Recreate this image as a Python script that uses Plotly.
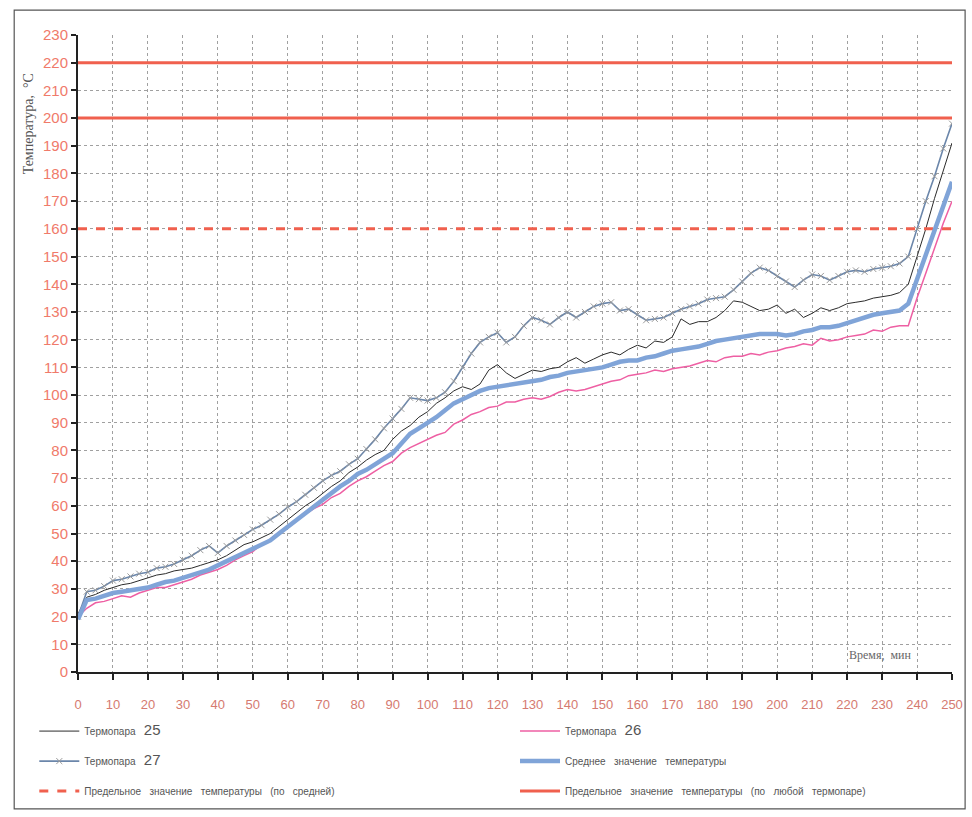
import plotly.graph_objects as go

# time, min (step 2.5)
time_min = [i * 2.5 for i in range(101)]

t25 = [21, 27, 28, 29.5, 30.5, 31.5, 32, 33, 34, 35, 35.5, 36.5, 37, 37.5, 38.5, 39.5, 40.5, 42, 44, 46,
       47, 48.5, 50, 52.5, 55, 57.5, 60, 62, 64.5, 67, 69, 72, 74, 76.5, 78.5, 80, 84, 87, 89, 92,
       94, 97, 99, 101.5, 103, 102, 104, 109, 111, 108, 106, 107.5, 109, 108.5, 109.5, 110, 112, 113.5, 111.5, 113,
       114.5, 115.5, 114.5, 116.5, 118, 117, 119.5, 119, 121, 127.5, 125.5, 126.5, 126.5, 128, 130.5, 134, 133.5, 132, 130.5, 131,
       132.5, 129.5, 131, 128, 129.5, 131.5, 130.5, 131.5, 133, 133.5, 134, 135, 135.5, 136, 137, 140, 150, 160, 171, 181,
       191]

t26 = [20, 23, 25, 25.5, 26.5, 27.5, 27, 28.5, 29.5, 30.5, 30.5, 31.5, 32.5, 33.5, 35, 36, 37, 38.5, 40.5, 42,
       43.5, 46, 48, 50.5, 52.5, 55, 57, 59, 60.5, 63, 64.5, 67, 69, 70.5, 72.5, 74.5, 76, 79, 81, 82.5,
       84, 85.5, 86.5, 89.5, 91, 93, 94, 95.5, 96, 97.5, 97.5, 98.5, 99, 98.5, 99.5, 101, 102, 101.5, 102, 103,
       104, 105, 105.5, 107, 107.5, 108, 109, 108.5, 109.5, 110, 110.5, 111.5, 112.5, 112, 113.5, 114, 114, 115, 114.5, 115.5,
       116, 117, 117.5, 118.5, 118, 120.5, 119.5, 120, 121, 121.5, 122, 123.5, 123, 124.5, 125, 125, 135, 144, 153, 162,
       170]

t27 = [20, 29, 29.5, 31, 33, 33.5, 34.5, 35.5, 36, 37.5, 38, 39, 40.5, 42, 44, 45.5, 43, 45.5, 47.5, 49.5,
       51.5, 53, 55, 57, 59.5, 61.5, 64, 66.5, 69, 71, 72.5, 75, 77, 80.5, 84, 88, 91.5, 95, 99, 98.5,
       98, 99, 101, 105, 110, 115, 119, 121, 122.5, 119, 121, 125, 128, 127, 125.5, 128, 130, 128, 130, 132,
       133, 133.5, 130.5, 131, 129, 127, 127.5, 128, 129.5, 131, 132, 133, 134.5, 135, 135.5, 138, 141, 144, 146, 145,
       143, 141, 139, 141.5, 143.5, 143, 141.5, 143, 144.5, 145, 144.5, 145.5, 146, 146.5, 147.5, 150, 160, 170, 179, 189,
       198]

t_mean = [19, 26, 26.5, 27.5, 28.5, 29, 29.5, 30, 30.5, 31.5, 32.5, 33, 34, 35, 36, 37, 38.5, 40, 41.5, 43,
          44.5, 46, 47.5, 50, 52.5, 55, 57.5, 59.5, 62, 64.5, 67, 69, 71.5, 73, 75, 77, 79, 82.5, 86, 88,
          90, 92, 94.5, 97, 98.5, 100, 101.5, 102.5, 103, 103.5, 104, 104.5, 105, 105.5, 106.5, 107, 108, 108.5, 109, 109.5,
          110, 111, 112, 112.5, 112.5, 113.5, 114, 115, 116, 116.5, 117, 117.5, 118.5, 119.5, 120, 120.5, 121, 121.5, 122, 122,
          122, 121.5, 122, 123, 123.5, 124.5, 124.5, 125, 126, 127, 128, 129, 129.5, 130, 130.5, 133, 142, 151, 160, 168.5,
          177]

limit_x = [0, 250]
limit_mean = [160, 160]
limit_any_high = [220, 220]
limit_any_low = [200, 200]

x_ticks = list(range(0, 251, 10))
y_ticks = list(range(0, 231, 10))

RED = "#f0604e"
NUM = "<span style='font-size:15px'>{}</span>"
fig = go.Figure()

fig.add_trace(go.Scatter(x=time_min, y=t25, mode="lines",
                         line=dict(color="#2b2b2b", width=1),
                         name="Термопара   " + NUM.format(25), legend="legend", legendgroup="a"))
fig.add_trace(go.Scatter(x=time_min, y=t27, mode="lines+markers",
                         line=dict(color="#6b86aa", width=1.6),
                         marker=dict(symbol="x-thin", size=6, line=dict(color="#9a9a9a", width=1)),
                         name="Термопара   " + NUM.format(27), legend="legend", legendgroup="b"))
fig.add_trace(go.Scatter(x=limit_x, y=limit_mean, mode="lines",
                         line=dict(color=RED, width=3, dash="dash"),
                         name="Предельное   значение   температуры   (по   средней)",
                         legend="legend", legendgroup="c"))
fig.add_trace(go.Scatter(x=time_min, y=t26, mode="lines",
                         line=dict(color="#ee5fa3", width=1.5),
                         name="Термопара   " + NUM.format(26), legend="legend2", legendgroup="d"))
fig.add_trace(go.Scatter(x=time_min, y=t_mean, mode="lines",
                         line=dict(color="#80a4d8", width=4.5),
                         name="Среднее   значение   температуры", legend="legend2", legendgroup="e"))
fig.add_trace(go.Scatter(x=limit_x + [None] + limit_x,
                         y=limit_any_high + [None] + limit_any_low, mode="lines",
                         line=dict(color=RED, width=3),
                         name="Предельное   значение   температуры   (по   любой   термопаре)",
                         legend="legend2", legendgroup="f"))

legend_common = dict(orientation="v", yanchor="top", xanchor="left",
                     font=dict(size=10, color="#555555", family="Liberation Sans Narrow, Liberation Sans"),
                     itemwidth=40, tracegroupgap=11, bgcolor="rgba(0,0,0,0)")

fig.update_layout(
    width=972, height=817,
    margin=dict(l=78, r=20, t=35, b=145, autoexpand=False),
    paper_bgcolor="white", plot_bgcolor="white",
    font=dict(family="Liberation Sans Narrow, Liberation Sans, Arial", color="#555555"),
    showlegend=True,
    legend=dict(x=-0.05, y=-0.07, **legend_common),
    legend2=dict(x=0.5, y=-0.07, **legend_common),
    xaxis=dict(range=[0, 250], tickvals=x_ticks, ticktext=[str(v) for v in x_ticks],
               showline=True, linecolor="#222", linewidth=2, mirror=False,
               ticks="outside", ticklen=6, tickcolor="#222", tickwidth=2,
               ticklabelstandoff=13,
               tickfont=dict(size=13, color="#d57a70", family="Liberation Sans Narrow, Arial Narrow, Liberation Sans"),
               showgrid=True, gridcolor="#a0a0a0", gridwidth=1, griddash="dot", zeroline=False),
    yaxis=dict(range=[0, 230], tickvals=y_ticks, ticktext=[str(v) for v in y_ticks],
               showline=True, linecolor="#222", linewidth=2,
               ticks="outside", ticklen=5, tickcolor="#222", tickwidth=2,
               tickfont=dict(size=15, color="#f07a6a", family="Liberation Sans Narrow, Arial Narrow, Liberation Sans"),
               showgrid=True, gridcolor="#a0a0a0", gridwidth=1, griddash="dot", zeroline=False),
    shapes=[dict(type="rect", xref="paper", yref="paper",
                 x0=-0.073, x1=1.015, y0=-0.215, y1=1.039,
                 line=dict(color="#555555", width=1.2), fillcolor="rgba(0,0,0,0)", layer="below")],
    annotations=[
        dict(text="Температура,  °С", xref="paper", yref="paper", x=-0.057, y=0.86,
             xanchor="center", yanchor="middle",
             textangle=-90, showarrow=False, font=dict(size=14, color="#555555",
                                                        family="Liberation Serif, DejaVu Serif")),
        dict(text="Время,  мин", xref="paper", yref="paper", x=0.918, y=0.027,
             xanchor="center", yanchor="middle",
             showarrow=False, font=dict(size=12, color="#666666", family="Liberation Serif, DejaVu Serif")),
    ],
)

fig.write_html("out.html")
